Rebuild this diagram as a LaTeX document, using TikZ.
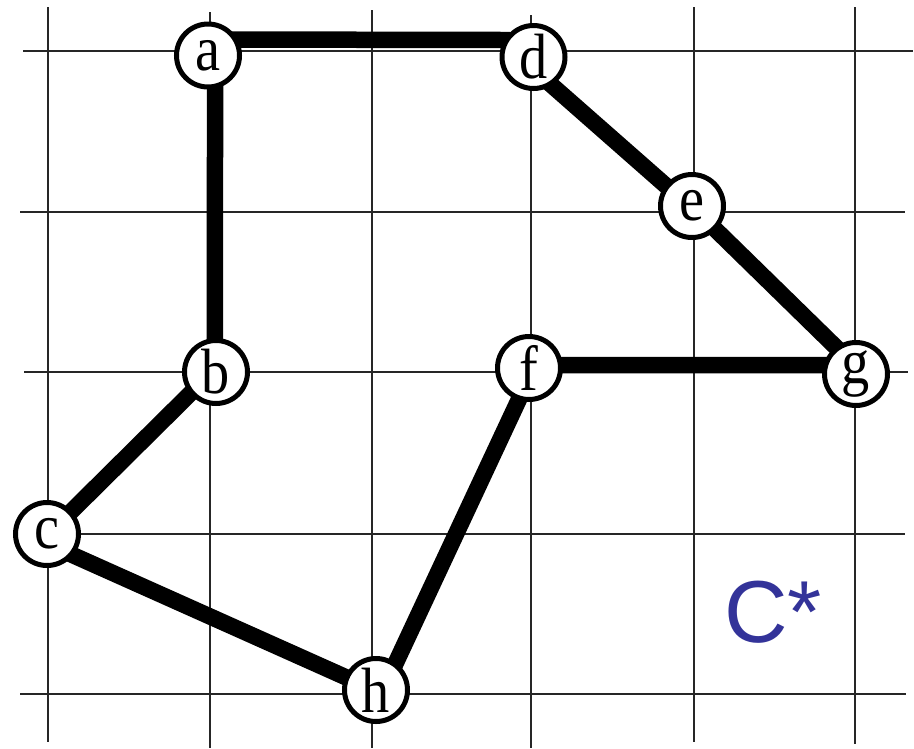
\documentclass[tikz,border=0pt]{standalone}
\usepackage{graphicx}
\usepackage{fontspec}
\setmainfont{Liberation Serif}
\newfontfamily\cstarfont{Liberation Sans}
\usetikzlibrary{backgrounds}
\definecolor{cstarblue}{RGB}{51,51,153}
\newcommand{\vlab}[1]{\scalebox{0.88}[1]{#1}}
\begin{document}
\begin{tikzpicture}[x=1pt,y=-1pt,
  vtx/.style={circle,draw,line width=5pt,fill=white,minimum size=63pt,inner sep=0pt,font=\fontsize{64}{64}\selectfont},
  edge/.style={line width=16.5pt,shorten >=-6pt,shorten <=-6pt},
  gridline/.style={line width=1.4pt,black!85}]
\useasboundingbox (0,0) rectangle (914,748);

\node[vtx] (a) at (208,55.5) {\vlab{a}};
\node[vtx] (d) at (533.5,57) {\vlab{d}};
\node[vtx] (e) at (692,206) {\vlab{e}};
\node[vtx] (b) at (216,372) {\vlab{b}};
\node[vtx] (f) at (529,368) {\vlab{f}};
\node[vtx] (g) at (856,374) {\vlab{g}};
\node[vtx] (c) at (47,534) {\vlab{c}};
\node[vtx] (h) at (376,690) {\vlab{h}};

\node[anchor=base west,text=cstarblue,inner sep=0pt,font=\cstarfont\fontsize{88}{88}\selectfont] (cstar) at (724,642) {C*};

\begin{scope}[on background layer]
  % grid
  \draw[gridline] (48,7) -- (48,742);
  \draw[gridline] (210,12) -- (210,748);
  \draw[gridline] (372,10) -- (372,748);
  \draw[gridline] (531,15) -- (531,748);
  \draw[gridline] (694,7) -- (694,742);
  \draw[gridline] (855,7) -- (855,744);
  \draw[gridline] (23,51) -- (913,51);
  \draw[gridline] (20,212) -- (905,212);
  \draw[gridline] (24,372) -- (908,372);
  \draw[gridline] (20,534) -- (905,534);
  \draw[gridline] (20,694) -- (906,694);
  % edges
  \draw[edge] (a.28) -- (d.150);
  \draw[edge] (a.-78) -- (b.92);
  \draw[edge] (d.-57) -- (e.142);
  \draw[edge] (e.-45) -- (g.127);
  \draw[edge] (f.5) -- (g.165);
  \draw[edge] (b.-140) -- (c.43);
  \draw[edge] (c.-39) -- (h.157);
  \draw[edge] (f.-108) -- (h.54);
\end{scope}
\end{tikzpicture}
\end{document}
